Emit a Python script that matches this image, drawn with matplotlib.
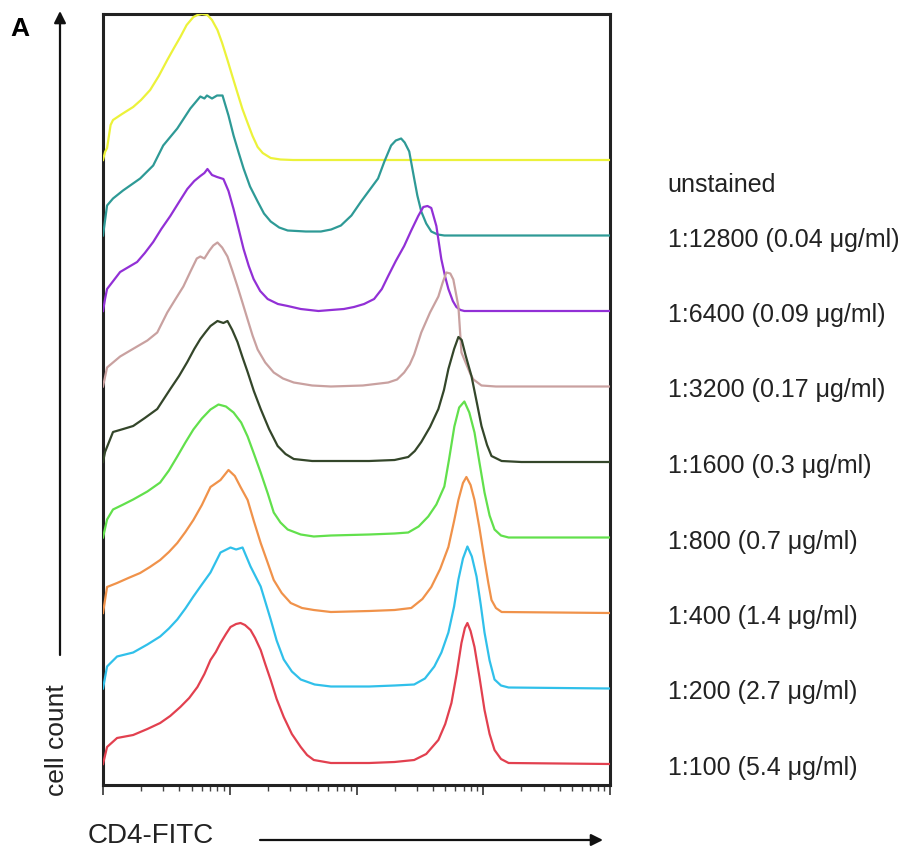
import numpy as np
import matplotlib
matplotlib.use("Agg")
import matplotlib.pyplot as plt

plt.rcParams['font.family'] = ['Liberation Sans', 'DejaVu Sans']

# Sample labels (top to bottom in the stack) and colours
labels = ["unstained", "1:12800 (0.04 \u03bcg/ml)", "1:6400 (0.09 \u03bcg/ml)",
          "1:3200 (0.17 \u03bcg/ml)", "1:1600 (0.3 \u03bcg/ml)", "1:800 (0.7 \u03bcg/ml)",
          "1:400 (1.4 \u03bcg/ml)", "1:200 (2.7 \u03bcg/ml)", "1:100 (5.4 \u03bcg/ml)"]
colors = ["#ecf23a", "#2e9a96", "#9230d6", "#c9a1a0", "#34462a",
          "#62e04c", "#f0924a", "#30c0ea", "#e2404f"]

# log10(CD4-FITC intensity) and cell-count values
unstained_x = [0.0, 0.016, 0.032, 0.06, 0.079, 0.15, 0.238, 0.30, 0.372, 0.44, 0.507, 0.56, 0.610,
               0.66, 0.713, 0.745, 0.78, 0.824, 0.86, 0.903, 0.94, 0.982, 1.02, 1.061, 1.10,
               1.141, 1.18, 1.220, 1.26, 1.323, 1.40, 1.5, 4.0]
unstained_y = [0, 8, 12, 35, 40, 46, 53, 60, 70, 84, 100, 112, 123,
               135, 143, 145, 146, 145, 140, 130, 117, 100, 84, 67, 51,
               37, 24, 13, 7, 2, 0.5, 0, 0]

d12800_x = [0.0, 0.016, 0.032, 0.079, 0.158, 0.293, 0.396, 0.475, 0.586, 0.689, 0.768, 0.80, 0.82,
            0.86, 0.90, 0.943, 0.95, 0.99, 1.030, 1.07, 1.109, 1.16, 1.220, 1.27, 1.323, 1.39,
            1.457, 1.6, 1.719, 1.80, 1.877, 1.96, 2.036, 2.10, 2.170, 2.22, 2.273, 2.31, 2.352,
            2.38, 2.416, 2.455, 2.48, 2.511, 2.55, 2.590, 2.64, 2.693, 4.0]
d12800_y = [0, 15, 30, 37, 45, 57, 70, 90, 107, 127, 139, 137, 140,
            137, 140, 140, 137, 120, 100, 83, 67, 49, 34, 22, 14, 8,
            5, 4, 4, 6, 10, 20, 34, 45, 57, 74, 90, 95, 97,
            93, 84, 57, 40, 24, 12, 4, 1, 0, 0]

d6400_x = [0.0, 0.016, 0.032, 0.135, 0.269, 0.33, 0.396, 0.46, 0.531, 0.60, 0.665, 0.72, 0.768,
           0.80, 0.824, 0.86, 0.90, 0.950, 0.99, 1.030, 1.07, 1.109, 1.15, 1.188, 1.24, 1.299,
           1.38, 1.457, 1.560, 1.70, 1.798, 1.90, 1.980, 2.06, 2.139, 2.20, 2.250, 2.31, 2.376,
           2.43, 2.487, 2.527, 2.56, 2.59, 2.630, 2.669, 2.70, 2.725, 2.76, 2.788, 2.82, 2.851, 4.0]
d6400_y = [0, 12, 22, 39, 49, 58, 69, 82, 95, 109, 122, 130, 135,
           138, 142, 136, 134, 132, 120, 102, 82, 62, 45, 32, 20, 12,
           7, 5, 2, 0, 1, 2, 4, 7, 12, 22, 35, 50, 65,
           80, 95, 104, 105, 103, 85, 52, 34, 22, 10, 4, 1, 0, 0]

d3200_x = [0.0, 0.032, 0.135, 0.269, 0.35, 0.428, 0.507, 0.57, 0.634, 0.69, 0.74, 0.768, 0.80,
           0.84, 0.87, 0.903, 0.94, 0.982, 1.02, 1.061, 1.10, 1.141, 1.18, 1.220, 1.28, 1.347,
           1.42, 1.505, 1.65, 1.798, 2.05, 2.250, 2.32, 2.376, 2.42, 2.455, 2.511, 2.58, 2.646,
           2.68, 2.709, 2.74, 2.764, 2.804, 2.828, 2.867, 2.90, 2.923, 2.986, 3.1, 4.0]
d3200_y = [0, 19, 30, 40, 46, 54, 74, 87, 100, 115, 128, 130, 128,
           136, 141, 144, 139, 130, 116, 100, 84, 67, 51, 37, 24, 14,
           8, 4, 1, 0, 1, 4, 7, 14, 22, 32, 54, 74, 90,
           104, 114, 113, 107, 80, 34, 22, 12, 7, 1, 0, 0]

d1600_x = [0.0, 0.016, 0.079, 0.16, 0.238, 0.33, 0.428, 0.531, 0.60, 0.665, 0.72, 0.768, 0.81,
           0.848, 0.903, 0.95, 0.982, 1.02, 1.061, 1.10, 1.141, 1.19, 1.244, 1.31, 1.378, 1.44,
           1.505, 1.65, 1.798, 2.10, 2.300, 2.408, 2.46, 2.511, 2.58, 2.646, 2.69, 2.725, 2.77,
           2.804, 2.83, 2.86, 2.907, 2.95, 2.986, 3.03, 3.065, 3.145, 3.3, 4.0]
d1600_y = [0, 10, 30, 33, 36, 44, 53, 73, 86, 100, 113, 123, 130,
           136, 141, 139, 141, 132, 120, 105, 90, 71, 53, 33, 16, 8,
           3, 1, 1, 1, 2, 5, 11, 20, 35, 53, 72, 93, 113,
           125, 122, 107, 86, 59, 36, 17, 6, 1, 0, 0]

d800_x = [0.0, 0.032, 0.079, 0.16, 0.238, 0.35, 0.451, 0.52, 0.586, 0.65, 0.713, 0.78, 0.848,
          0.911, 0.97, 1.030, 1.09, 1.141, 1.19, 1.244, 1.30, 1.347, 1.40, 1.457, 1.56, 1.663,
          1.798, 2.10, 2.300, 2.408, 2.49, 2.566, 2.63, 2.693, 2.73, 2.772, 2.81, 2.851, 2.89,
          2.931, 2.97, 3.010, 3.05, 3.089, 3.14, 3.200, 4.0]
d800_y = [0, 18, 28, 33, 38, 46, 55, 67, 81, 95, 108, 119, 128,
          133, 131, 125, 115, 101, 84, 65, 44, 25, 15, 8, 3, 1,
          2, 3, 4, 5, 11, 21, 33, 51, 78, 111, 130, 136, 125,
          105, 75, 45, 22, 8, 2, 0, 0]

d400_x = [0.0, 0.032, 0.111, 0.2, 0.293, 0.37, 0.451, 0.52, 0.586, 0.65, 0.713, 0.78, 0.848,
          0.927, 0.990, 1.04, 1.085, 1.141, 1.19, 1.244, 1.30, 1.347, 1.41, 1.481, 1.57, 1.663,
          1.798, 2.10, 2.300, 2.432, 2.52, 2.590, 2.66, 2.725, 2.77, 2.804, 2.84, 2.867, 2.90,
          2.931, 2.97, 3.010, 3.04, 3.065, 3.10, 3.145, 4.0]
d400_y = [0, 26, 30, 35, 40, 46, 53, 61, 70, 81, 93, 108, 126,
          133, 143, 137, 126, 113, 92, 70, 50, 33, 20, 10, 5, 3,
          1, 2, 3, 5, 14, 26, 44, 66, 92, 113, 130, 136, 128,
          113, 85, 53, 30, 13, 5, 1, 0]

d200_x = [0.0, 0.032, 0.111, 0.238, 0.35, 0.451, 0.52, 0.586, 0.65, 0.713, 0.78, 0.848, 0.927,
          1.006, 1.05, 1.101, 1.164, 1.244, 1.28, 1.323, 1.37, 1.426, 1.49, 1.560, 1.67, 1.798,
          2.10, 2.300, 2.455, 2.54, 2.614, 2.67, 2.725, 2.77, 2.804, 2.84, 2.875, 2.91, 2.947,
          2.98, 3.010, 3.05, 3.089, 3.14, 3.200, 4.0]
d200_y = [0, 22, 32, 36, 44, 52, 60, 69, 80, 92, 104, 116, 136,
          141, 139, 141, 122, 102, 87, 69, 48, 29, 17, 9, 4, 2,
          2, 3, 4, 10, 22, 36, 56, 82, 109, 130, 142, 132, 112,
          84, 56, 28, 9, 3, 1, 0]

d100_x = [0.0, 0.032, 0.111, 0.238, 0.35, 0.451, 0.53, 0.610, 0.68, 0.745, 0.80, 0.848, 0.89,
          0.927, 0.97, 1.006, 1.05, 1.085, 1.12, 1.164, 1.20, 1.244, 1.28, 1.323, 1.37, 1.426,
          1.49, 1.560, 1.61, 1.663, 1.798, 2.10, 2.300, 2.455, 2.55, 2.646, 2.70, 2.749, 2.79,
          2.828, 2.855, 2.875, 2.90, 2.931, 2.97, 3.010, 3.05, 3.089, 3.14, 3.200, 4.0]
d100_y = [0, 17, 26, 29, 35, 41, 48, 57, 66, 77, 90, 104, 112,
          121, 130, 137, 140, 141, 139, 134, 126, 114, 100, 84, 65, 47,
          30, 17, 9, 4, 1, 1, 2, 4, 10, 24, 40, 61, 90,
          121, 136, 141, 133, 117, 87, 54, 30, 14, 5, 1, 0]

series_x = [unstained_x, d12800_x, d6400_x, d3200_x, d1600_x, d800_x, d400_x, d200_x, d100_x]
series_y = [unstained_y, d12800_y, d6400_y, d3200_y, d1600_y, d800_y, d400_y, d200_y, d100_y]

# layout / style
W, H = 900, 851
fig = plt.figure(figsize=(W / 100, H / 100), dpi=100)
ax = fig.add_axes([103 / W, (H - 785) / H, 507 / W, 771 / H])

base = 21.0
step = 75.5
n = len(labels)
for i in range(n):
    off = base + step * (n - 1 - i)
    xs = 10 ** np.asarray(series_x[i], dtype=float)
    ys = np.asarray(series_y[i], dtype=float) + off
    ax.plot(xs, ys, color=colors[i], lw=1.6, solid_joinstyle='round', zorder=3 + i)
    ly = off - 4 if i > 0 else off - 25
    ax.text(1.114, ly, labels[i], transform=ax.get_yaxis_transform(),
            fontsize=18, color='#222222', va='center', ha='left', clip_on=False)

ax.set_xscale('log')
ax.set_xlim(1, 1e4)
ax.set_ylim(0, 771)
ax.set_yticks([])
ax.tick_params(axis='x', which='major', direction='out', length=7, width=1.2,
               labelbottom=False, color='#333333')
ax.tick_params(axis='x', which='minor', direction='out', length=4, width=1.0,
               color='#444444')
for s in ax.spines.values():
    s.set_linewidth(2.2)
    s.set_color('#222222')

# Panel letter, axis arrows and titles
fig.text(10 / W, 1 - 29 / H, "A", fontsize=19, fontweight='bold', va='center', ha='left')
fig.add_artist(matplotlib.patches.FancyArrowPatch(
    (60 / W, 1 - 655 / H), (60 / W, 1 - 11 / H), transform=fig.transFigure,
    arrowstyle='-|>,head_length=7,head_width=3.5', color='#111111', lw=1.6,
    shrinkA=0, shrinkB=0))
fig.text(57 / W, 1 - 740 / H, "cell count", rotation=90, fontsize=19,
         va='center', ha='center', color='#222222')
fig.text(88 / W, 1 - 836 / H, "CD4-FITC", fontsize=20, va='center', ha='left',
         color='#222222')
fig.add_artist(matplotlib.patches.FancyArrowPatch(
    (260 / W, 1 - 840 / H), (603 / W, 1 - 840 / H), transform=fig.transFigure,
    arrowstyle='-|>,head_length=7,head_width=3.5', color='#111111', lw=1.6,
    shrinkA=0, shrinkB=0))

fig.savefig("out.png", dpi=100, facecolor='white')
